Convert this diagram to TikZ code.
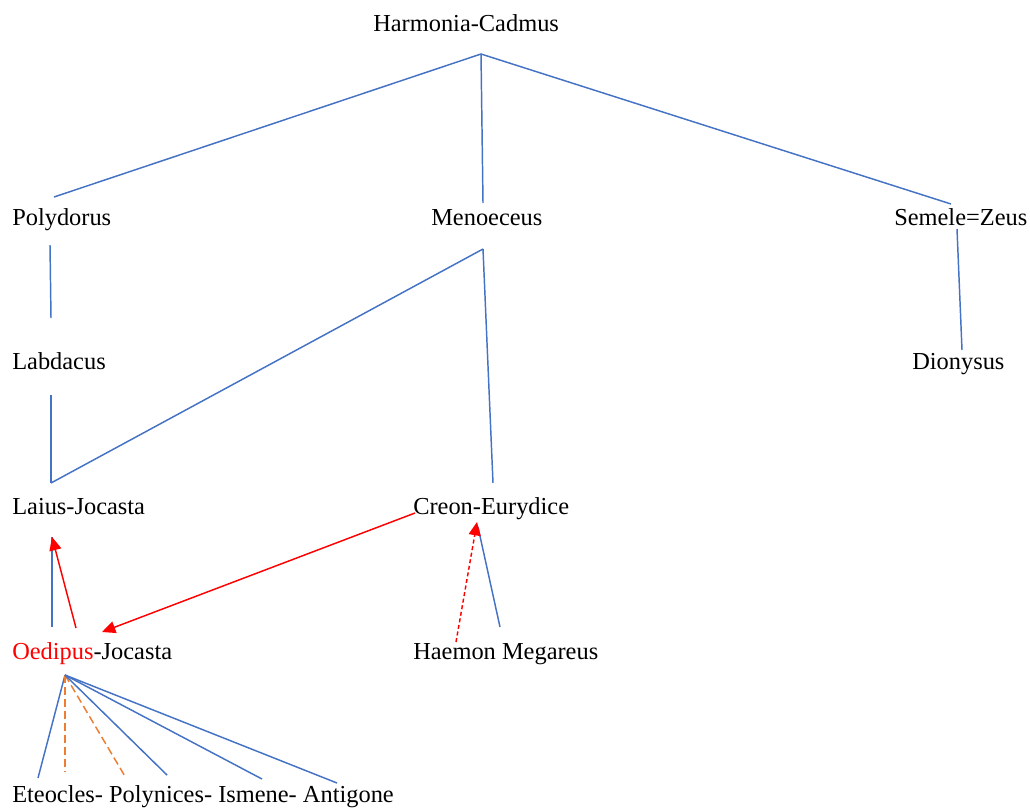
\documentclass[tikz,border=0pt]{standalone}
\usepackage{fontspec}
\setmainfont{Liberation Serif}
\usetikzlibrary{arrows.meta}
\definecolor{lblue}{HTML}{4472C4}
\definecolor{lorange}{HTML}{ED7D31}
\begin{document}
\begin{tikzpicture}[x=0.75pt,y=-0.75pt,
  lbl/.style={anchor=base west,inner sep=0pt,font=\fontsize{18.3}{22}\selectfont},
  tie/.style={draw=lblue,line width=1.1pt},
  redarrow/.style={draw=red,line width=1.1pt,-{Triangle[length=10pt,width=9pt]}},
  reddot/.style={draw=red,line width=1.1pt,dash pattern=on 3pt off 2pt,-{Triangle[length=10pt,width=9pt]}},
  orangedash/.style={draw=lorange,line width=1.1pt,dash pattern=on 6pt off 3pt}]
\useasboundingbox (0,0) rectangle (1030,807);
% texts
\node[lbl] (hc) at (373,31) {Harmonia-Cadmus};
\node[lbl] (pol) at (12,225) {Polydorus};
\node[lbl] (men) at (431,225) {Menoeceus};
\node[lbl] (sem) at (894,225) {Semele=Zeus};
\node[lbl] (lab) at (12,369) {Labdacus};
\node[lbl] (dio) at (912,369) {Dionysus};
\node[lbl] (lai) at (12,514) {Laius-Jocasta};
\node[lbl] (cre) at (413,514) {Creon-Eurydice};
\node[lbl] (oed) at (12,659) {\textcolor{red}{Oedipus}-Jocasta};
\node[lbl] (hae) at (413,659) {Haemon Megareus};
\node[lbl] (chi) at (12,802) {Eteocles- Polynices- Ismene- Antigone};
% connection points
\coordinate (hcB) at (481,54);
\coordinate (polT) at (54,197);
\coordinate (menT) at (483,203);
\coordinate (semT) at (951,204);
\coordinate (polB) at (50,245);
\coordinate (labT) at (51,318);
\coordinate (labB) at (51,395);
\coordinate (laiT) at (51,483);
\coordinate (menB) at (483,249);
\coordinate (creT) at (493,483);
\coordinate (semB) at (957,229);
\coordinate (dioT) at (962,350);
\coordinate (laiB) at (52,537);
\coordinate (oedT) at (52,627);
\coordinate (oedR) at (76,628);
\coordinate (creL) at (415,513);
\coordinate (oedA) at (102,632);
\coordinate (haeT) at (456,642);
\coordinate (creB) at (477,522);
\coordinate (creB2) at (478,527);
\coordinate (megT) at (500,627);
\coordinate (oedB) at (65,675);
\coordinate (c1) at (38,778);
\coordinate (c2) at (65,772);
\coordinate (c3) at (126,778);
\coordinate (c4) at (167,775);
\coordinate (c5) at (262,779);
\coordinate (c6) at (337,783);
% lines
\draw[tie] (hcB) -- (polT);
\draw[tie] (hcB) -- (menT);
\draw[tie] (hcB) -- (semT);
\draw[tie] (polB) -- (labT);
\draw[tie] (labB) -- (laiT);
\draw[tie] (menB) -- (laiT);
\draw[tie] (menB) -- (creT);
\draw[tie] (semB) -- (dioT);
\draw[tie] (laiB) -- (oedT);
\draw[redarrow] (oedR) -- (laiB);
\draw[redarrow] (creL) -- (oedA);
\draw[tie] (creB2) -- (megT);
\draw[reddot] (haeT) -- (creB);
\draw[tie] (oedB) -- (c1);
\draw[orangedash] (oedB) -- (c2);
\draw[orangedash] (oedB) -- (c3);
\draw[tie] (oedB) -- (c4);
\draw[tie] (oedB) -- (c5);
\draw[tie] (oedB) -- (c6);
\end{tikzpicture}
\end{document}
